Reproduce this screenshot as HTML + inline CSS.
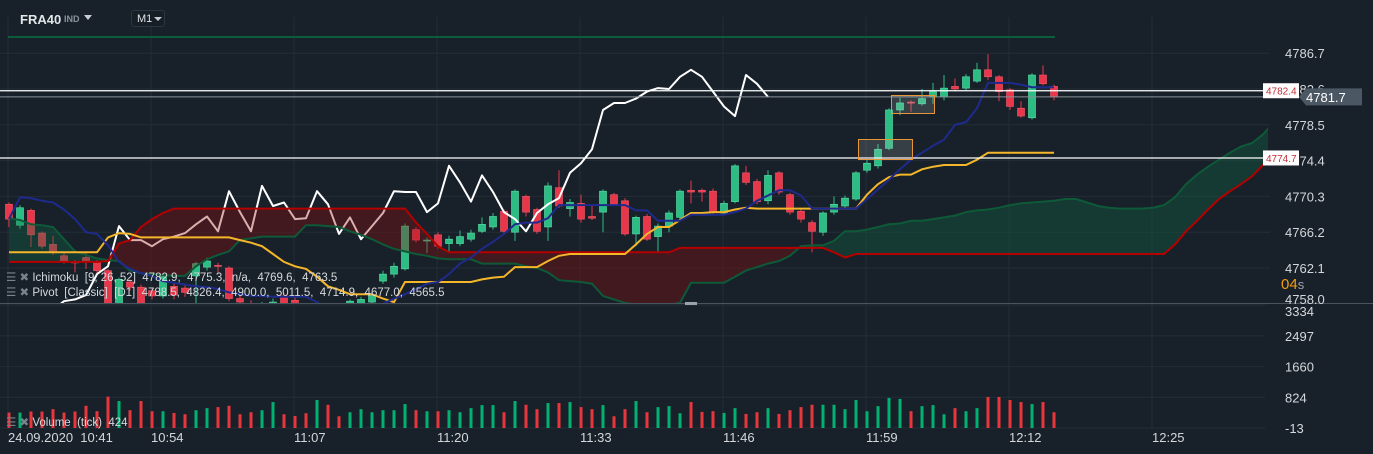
<!DOCTYPE html>
<html><head><meta charset="utf-8">
<style>
html,body{margin:0;padding:0;background:#18212a;width:1373px;height:454px;overflow:hidden;font-family:"Liberation Sans",sans-serif;}
svg{display:block;}
text{font-family:"Liberation Sans",sans-serif;}
</style></head>
<body>
<svg id="chart" width="1373" height="454" xmlns="http://www.w3.org/2000/svg">
  <rect x="0" y="0" width="1373" height="454" fill="#18212a"/>
  <g id="grid"></g>
  <defs>
    <clipPath id="mainClip"><rect x="0" y="40" width="1268" height="263"/></clipPath>
  </defs>
  <g id="main" clip-path="url(#mainClip)"></g>
  <g id="vol"></g>
  <g id="axes"></g>
  <g id="overlay"></g>
</svg>
<script>
const openP=[4769.4,4767.0,4768.7,4766.1,4764.8,4763.5,4762.8,4763.3,4762.8,4761.8,
4757.5,4760.5,4759.9,4759.5,4758.9,4760.0,4759.8,4761.2,4762.2,4762.4,
4762.1,4758.6,4758.0,4757.6,4757.4,4758.9,4758.4,4757.8,4757.4,4757.6,
4757.7,4757.5,4757.8,4758.2,4760.6,4761.4,4762.0,4766.5,4765.2,4765.9,
4764.9,4764.9,4765.4,4766.3,4766.8,4768.6,4766.2,4770.3,4768.8,4766.8,
4771.3,4768.9,4769.5,4768.0,4768.5,4770.5,4769.8,4766.0,4768.0,4765.7,
4766.9,4767.9,4771.0,4771.0,4770.9,4768.4,4769.7,4773.0,4772.0,4769.8,
4773.0,4770.5,4768.6,4767.3,4766.2,4768.5,4769.2,4770.0,4773.3,4773.8,
4775.8,4780.2,4781.1,4780.9,4781.7,4781.7,4782.9,4782.7,4783.5,4784.8,
4784.0,4782.5,4780.4,4779.3,4784.2,4782.9];
const closeP=[4767.7,4769.0,4765.9,4764.6,4763.9,4762.9,4762.7,4762.9,4761.8,4757.5,
4760.8,4759.9,4757.5,4758.9,4761.1,4759.0,4759.3,4762.6,4762.9,4762.3,
4758.6,4758.2,4757.5,4757.9,4758.2,4758.0,4757.8,4757.4,4757.6,4757.3,
4757.3,4758.3,4758.5,4759.0,4761.4,4762.3,4766.9,4765.3,4765.3,4764.6,
4765.4,4765.7,4766.1,4767.1,4768.0,4766.3,4770.9,4768.5,4766.3,4771.5,
4769.2,4769.6,4767.7,4767.8,4770.9,4769.4,4766.0,4767.9,4765.4,4766.9,
4768.4,4770.9,4770.8,4770.8,4768.5,4769.5,4773.8,4771.9,4769.7,4772.7,
4770.8,4768.5,4767.7,4766.3,4768.4,4769.4,4770.1,4773.0,4774.1,4775.7,
4780.2,4781.0,4781.0,4781.5,4782.3,4782.7,4782.6,4784.0,4784.8,4784.0,
4782.3,4780.6,4779.5,4784.2,4783.2,4781.7];
const highP=[4769.6,4769.3,4768.9,4766.3,4765.8,4763.8,4763.0,4764.0,4763.0,4762.0,
4761.0,4760.8,4760.2,4759.8,4761.4,4760.5,4760.3,4762.8,4763.3,4762.7,
4762.3,4758.9,4758.4,4758.2,4758.6,4759.2,4758.8,4758.0,4757.9,4757.8,
4757.9,4758.5,4758.8,4759.3,4761.8,4762.7,4767.2,4766.8,4765.6,4766.2,
4765.8,4766.4,4766.5,4767.9,4768.4,4768.8,4771.1,4770.5,4769.0,4771.9,
4773.3,4770.0,4770.5,4769.3,4771.1,4770.7,4770.1,4768.1,4768.3,4767.2,
4768.7,4771.1,4772.1,4771.2,4771.2,4769.8,4774.0,4773.8,4772.3,4773.3,
4773.2,4770.7,4768.8,4767.6,4768.6,4770.3,4770.4,4773.2,4774.5,4776.3,
4780.4,4781.6,4781.3,4782.6,4783.3,4784.2,4783.8,4784.3,4785.6,4786.6,
4784.2,4782.7,4781.2,4784.4,4785.3,4783.1];
const lowP=[4766.8,4766.6,4764.5,4764.3,4763.6,4762.6,4761.6,4762.0,4761.5,4757.0,
4757.0,4759.5,4757.0,4758.5,4758.6,4758.5,4758.8,4758.0,4761.8,4761.5,
4758.3,4757.5,4757.0,4757.0,4757.0,4757.5,4757.3,4757.0,4757.0,4757.0,
4757.0,4757.0,4757.5,4757.8,4760.3,4761.0,4761.8,4765.0,4763.8,4764.3,
4764.0,4764.6,4765.1,4766.1,4766.5,4766.0,4765.2,4768.0,4766.0,4765.2,
4769.0,4768.0,4767.3,4767.6,4766.2,4769.2,4765.8,4764.6,4765.2,4764.0,
4766.2,4767.6,4769.5,4769.7,4768.3,4768.2,4769.5,4771.6,4769.4,4769.4,
4770.5,4768.2,4767.3,4763.9,4765.8,4768.2,4768.9,4769.8,4773.0,4773.5,
4775.6,4779.6,4780.0,4780.7,4780.9,4781.3,4782.3,4782.4,4783.3,4783.6,
4781.2,4780.2,4779.3,4779.1,4783.0,4781.3];
const volumes=[408,408,436,436,500,408,436,592,444,842,
722,472,722,444,444,398,361,472,528,556,
592,361,417,472,694,361,315,389,750,620,
306,417,500,417,472,472,639,472,444,444,
472,417,528,611,611,417,722,620,500,667,
667,694,556,500,611,306,500,722,417,556,
583,389,694,425,444,398,528,370,417,528,
370,472,556,620,620,620,500,750,444,583,
806,778,444,583,611,361,528,444,528,833,
833,750,694,639,694,417];
const tenkan=[4767.7,4770.2,4770.1,4769.8,4769.6,4768.8,4767.7,4766.2,4766.0,4764.7,
4762.8,4762.0,4761.5,4761.2,4760.6,4760.4,4760.2,4760.0,4759.9,4759.7,
4759.3,4759.1,4758.9,4758.9,4758.8,4758.8,4758.8,4758.8,4758.2,4757.4,
4757.4,4757.4,4757.4,4757.4,4758.0,4758.6,4759.1,4759.7,4760.3,4760.5,
4761.4,4762.6,4763.3,4764.3,4765.1,4766.0,4767.1,4767.3,4767.3,4767.8,
4769.3,4769.3,4769.3,4769.3,4769.3,4769.3,4769.3,4768.7,4768.7,4767.5,
4767.5,4767.5,4768.2,4768.2,4768.2,4768.2,4768.5,4768.9,4769.8,4770.4,
4771.0,4771.0,4770.4,4768.9,4768.9,4768.9,4768.9,4768.9,4770.0,4771.1,
4772.2,4773.4,4774.5,4775.3,4776.1,4776.8,4778.5,4778.8,4780.4,4783.3,
4783.3,4783.3,4783.1,4782.8,4782.8,4782.8];
const kijun=[4763.9,4763.9,4763.9,4763.9,4763.9,4763.9,4763.9,4763.9,4763.9,4765.6,
4766.1,4766.0,4765.6,4765.6,4765.6,4765.6,4765.6,4765.6,4765.6,4765.6,
4765.6,4765.3,4765.0,4764.6,4763.7,4762.8,4762.3,4762.0,4761.1,4760.0,
4759.6,4759.1,4759.1,4759.1,4758.6,4758.2,4760.5,4760.5,4760.5,4760.5,
4760.5,4760.5,4760.5,4760.8,4761.0,4761.1,4762.2,4762.2,4762.2,4762.9,
4763.5,4763.7,4763.7,4763.7,4763.7,4763.7,4763.7,4764.8,4766.0,4766.8,
4766.8,4767.6,4768.4,4768.4,4768.5,4768.5,4768.8,4769.0,4768.9,4768.9,
4768.9,4768.9,4768.9,4768.9,4768.9,4768.9,4768.9,4768.9,4770.5,4771.7,
4772.5,4772.8,4772.8,4773.4,4773.7,4773.9,4773.9,4773.9,4774.5,4775.3,
4775.3,4775.3,4775.3,4775.3,4775.3,4775.3];
const senkouA=[4767.8,4767.6,4767.1,4767.0,4766.8,4765.4,4764.0,4763.6,4763.2,4763.0,
4762.9,4761.8,4761.5,4761.4,4761.3,4761.2,4761.2,4762.3,4763.1,4763.6,
4764.0,4765.3,4765.5,4765.7,4765.7,4765.7,4765.7,4767.0,4767.0,4766.9,
4766.8,4766.3,4765.9,4765.4,4764.8,4764.3,4764.0,4763.7,4763.5,4763.2,
4763.1,4763.1,4763.1,4762.6,4762.6,4762.6,4762.6,4762.3,4762.1,4761.6,
4760.7,4760.6,4760.5,4760.3,4758.9,4758.5,4758.1,4757.9,4757.9,4757.9,
4757.9,4758.1,4760.4,4760.4,4760.4,4760.4,4761.1,4761.8,4762.2,4762.6,
4762.9,4763.5,4764.6,4764.7,4764.7,4765.2,4766.3,4766.3,4766.5,4766.8,
4767.1,4767.2,4767.5,4767.5,4767.7,4767.9,4768.1,4768.5,4768.7,4768.8,
4769.0,4769.3,4769.5,4769.6,4769.7,4769.8,4770.0,4770.0,4769.6,4769.2,
4769.0,4768.9,4768.9,4768.9,4769.0,4769.3,4770.2,4771.7,4772.8,4773.7,
4774.5,4775.3,4776.0,4776.4,4777.4,4778.8,4779.3,4779.3,4779.3,4779.3,4779.2];
const senkouB=[4762.8,4762.8,4762.8,4762.8,4762.8,4762.8,4762.8,4762.8,4762.8,4762.9,
4764.9,4765.3,4766.8,4767.7,4768.4,4768.9,4768.9,4768.9,4768.9,4768.9,
4768.9,4768.9,4768.9,4768.9,4768.9,4768.9,4768.9,4768.9,4768.9,4768.9,
4768.9,4768.9,4768.9,4768.9,4768.9,4768.9,4768.9,4767.3,4766.0,4764.6,
4763.9,4763.9,4763.9,4763.9,4763.9,4763.9,4763.9,4763.9,4763.9,4763.9,
4763.9,4763.9,4763.9,4763.9,4763.9,4763.9,4763.9,4763.9,4763.9,4763.9,
4763.9,4764.4,4764.4,4764.4,4764.4,4764.4,4764.4,4764.4,4764.4,4764.4,
4764.4,4764.4,4764.4,4764.4,4764.4,4763.9,4763.3,4763.7,4763.7,4763.7,
4763.7,4763.7,4763.7,4763.7,4763.7,4763.7,4763.7,4763.7,4763.7,4763.7,
4763.7,4763.7,4763.7,4763.7,4763.7,4763.7,4763.7,4763.7,4763.7,4763.7,
4763.7,4763.7,4763.7,4763.7,4763.7,4763.7,4764.8,4766.3,4767.5,4768.8,
4770.0,4770.9,4771.7,4772.6,4773.9,4774.5,4774.9,4775.1,4775.1,4775.1,4775.1];
const priceTicks=[4786.7,4782.6,4778.5,4774.4,4770.3,4766.2,4762.1,4758.0];
const volTicks=[3334,2497,1660,824,-13];
const timeLabels=["24.09.2020  10:41","10:54","11:07","11:20","11:33","11:46","11:59","12:12","12:25"];
const priceLines=[4782.4,4774.7];
const lastPrice=4781.7;

const NS="http://www.w3.org/2000/svg";
const xOf=m=>9+11*m;
const yP=p=>268-(p-4762.1)*8.732;
const yV=v=>428-(v+13)*0.0367;
function mk(tag,attrs,parent){const e=document.createElementNS(NS,tag);for(const k in attrs)e.setAttribute(k,attrs[k]);parent.appendChild(e);return e;}
const grid=document.getElementById('grid'),main=document.getElementById('main'),vol=document.getElementById('vol'),axes=document.getElementById('axes'),ov=document.getElementById('overlay');

priceTicks.forEach(p=>{const l=mk('line',{x1:0,x2:1270,y1:yP(p),y2:yP(p),stroke:'#232d37','stroke-width':1},grid);

});
volTicks.forEach(v=>{const l=mk('line',{x1:0,x2:1265,y1:yV(v),y2:yV(v),stroke:'#232d37','stroke-width':1},grid);

});
timeLabels.forEach((t,i)=>{const x=xOf(13*i)-1;const l=mk('line',{x1:x,x2:x,y1:17,y2:430,stroke:'#232d37','stroke-width':1},grid);

});
const sep=mk('line',{x1:0,x2:1373,y1:303.5,y2:303.5,stroke:'#4a545e','stroke-width':1},grid);


const topLine=mk('line',{x1:8,x2:1055,y1:37,y2:37,stroke:'#0b5e3c','stroke-width':2},grid);



function path(arr,offset,n0,n1){let d='';for(let i=n0;i<=n1;i++){d+=(i===n0?'M':'L')+xOf(i+offset).toFixed(1)+' '+yP(arr[i]).toFixed(1);}return d;}

for(let m=0;m<openP.length;m++){
  const up=closeP[m]>=openP[m];const col=up?'#2bbd84':'#e8374a';
  const g=mk('g',{},main);
  
  
  mk('line',{x1:xOf(m),x2:xOf(m),y1:yP(highP[m]),y2:yP(lowP[m]),stroke:col,'stroke-width':1},g);
  const t=yP(Math.max(openP[m],closeP[m])),b=yP(Math.min(openP[m],closeP[m]));
  mk('rect',{x:xOf(m)-3.5,y:t,width:7,height:Math.max(1,b-t),fill:col,stroke:up?'#5fe0a8':'#f05a6a','stroke-width':0.6},g);
}
let dch='';for(let m=0;m+26<closeP.length;m++){dch+=(m===0?'M':'L')+xOf(m)+' '+yP(closeP[m+26]).toFixed(1);}
const ch=mk('path',{d:dch,fill:'none',stroke:'#ffffff','stroke-width':2,'stroke-linejoin':'round'},main);


for(let i=0;i<senkouA.length-1;i++){
  const a0=yP(senkouA[i]),a1=yP(senkouA[i+1]),b0=yP(senkouB[i]),b1=yP(senkouB[i+1]);
  const green=(senkouA[i]+senkouA[i+1])>=(senkouB[i]+senkouB[i+1]);
  const q=mk('polygon',{points:`${xOf(i)},${a0} ${xOf(i+1)},${a1} ${xOf(i+1)},${b1} ${xOf(i)},${b0}`,fill:green?'rgba(14,110,70,0.32)':'rgba(150,10,10,0.33)'},main);
  
  
}
const la=mk('path',{d:path(senkouA,0,0,senkouA.length-1),fill:'none',stroke:'#0e5a38','stroke-width':2},main);


const lb=mk('path',{d:path(senkouB,0,0,senkouB.length-1),fill:'none',stroke:'#b50000','stroke-width':2},main);


const lk=mk('path',{d:path(kijun,0,0,kijun.length-1),fill:'none',stroke:'#f5b62a','stroke-width':2},main);


const lt=mk('path',{d:path(tenkan,0,0,tenkan.length-1),fill:'none',stroke:'#1e2a8c','stroke-width':2},main);



volumes.forEach((v,m)=>{const up=closeP[m]>=openP[m];
  const r=mk('rect',{x:xOf(m)-1.5,y:yV(v),width:3,height:yV(-13)-yV(v),fill:up?'#00b172':'#e8363c'},vol);
  
  });

priceTicks.forEach((p,i)=>{const y=i===priceTicks.length-1?yP(p)-0:yP(p)+5;
  const t=mk('text',{x:1285,y:y,fill:'#d4d7da','font-size':13},axes);t.textContent=p.toFixed(1);
  
  });
volTicks.forEach((v,i)=>{const y=i===0?yV(v)+11:yV(v)+5;
  const t=mk('text',{x:1285,y:y,fill:'#d4d7da','font-size':13},axes);t.textContent=String(v);
  
  });
timeLabels.forEach((s,i)=>{const x=i===0?8:xOf(13*i)-1;
  const t=mk('text',{x:x,y:442,fill:'#d4d7da','font-size':13,'xml:space':'preserve'},axes);t.textContent=s;t.style.whiteSpace='pre';
  
  });

priceLines.forEach(p=>{const y=yP(p);
  const l=mk('line',{x1:0,x2:1263,y1:y,y2:y,stroke:'#ffffff','stroke-width':1.3},ov);
  
  
  const r=mk('rect',{x:1263,y:y-7.5,width:36,height:15,fill:'#ffffff'},ov);
  
  
  const t=mk('text',{x:1266,y:y+4,fill:'#c0303a','font-size':10},ov);t.textContent=p.toFixed(1);
  
  });
const cl=mk('line',{x1:0,x2:1263,y1:yP(lastPrice),y2:yP(lastPrice),stroke:'#8a9096','stroke-width':1},ov);


const cy=yP(lastPrice);
const cb=mk('path',{d:`M1299 ${cy} L1306 ${cy-8.5} L1362 ${cy-8.5} L1362 ${cy+8.5} L1306 ${cy+8.5} Z`,fill:'#4b5864'},ov);


const ct=mk('text',{x:1306,y:cy+5,fill:'#ffffff','font-size':13},ov);ct.textContent=lastPrice.toFixed(1);


</script>
<div style="position:absolute;left:0;top:0;width:1373px;height:454px;pointer-events:none;">
  <div style="position:absolute;left:858px;top:139px;width:55px;height:21px;border:1px solid #e8953a;background:rgba(200,200,200,0.18);box-sizing:border-box;"></div>
  <div style="position:absolute;left:891px;top:95px;width:44px;height:19px;border:1px solid #e8953a;background:rgba(200,200,200,0.18);box-sizing:border-box;"></div>
  <div style="position:absolute;left:20px;top:12px;color:#e4e6e8;font-weight:bold;font-size:13px;">FRA40</div>
  <div style="position:absolute;left:64px;top:14px;color:#8a9299;font-weight:bold;font-size:9px;">IND</div>
  <div style="position:absolute;left:84px;top:15px;width:0;height:0;border-left:4px solid transparent;border-right:4px solid transparent;border-top:5px solid #c9ccd0;"></div>
  <div style="position:absolute;left:131px;top:10px;width:34px;height:17px;border:1px solid #2c3640;border-radius:3px;box-sizing:border-box;background:#161e26;">
    <span style="position:absolute;left:5px;top:2px;color:#dfe2e5;font-size:11px;">M1</span>
    <span style="position:absolute;left:22px;top:6px;width:0;height:0;border-left:4px solid transparent;border-right:4px solid transparent;border-top:4px solid #c9ccd0;"></span>
  </div>
  <div style="position:absolute;left:6px;top:270px;color:#d6d9dc;font-size:11.5px;white-space:pre;"><span style="color:#7a838b">☰ ✖</span> Ichimoku  [9, 26, 52]  4782.9,  4775.3,  n/a,  4769.6,  4763.5</div>
  <div style="position:absolute;left:6px;top:285px;color:#d6d9dc;font-size:11.5px;white-space:pre;"><span style="color:#7a838b">☰ ✖</span> Pivot  [Classic]  [D1]  4788.5,  4826.4,  4900.0,  5011.5,  4714.9,  4677.0,  4565.5</div>
  <div style="position:absolute;left:6px;top:415px;color:#d6d9dc;font-size:11.5px;white-space:pre;"><span style="color:#7a838b">☰ ✖</span> Volume  (tick)  424</div>
  <div style="position:absolute;left:1281px;top:276px;font-size:15px;"><span style="color:#f39c12">04</span><span style="color:#9aa1a8;font-size:13px">s</span></div>
  <div style="position:absolute;left:685px;top:302px;width:12px;height:3px;background:#9aa1a8;"></div>
</div>
</body></html>
